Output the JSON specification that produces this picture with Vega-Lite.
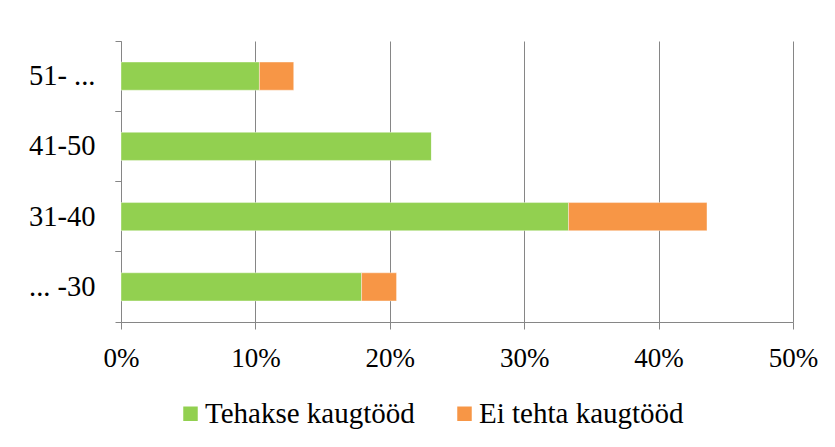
{
  "$schema": "https://vega.github.io/schema/vega-lite/v6.json",
  "width": 672,
  "height": 281,
  "autosize": {"type": "none"},
  "padding": {"left": 121, "top": 41, "right": 42, "bottom": 125},
  "background": "white",
  "config": {
    "view": {"stroke": null}
  },
  "data": {
    "values": [
      {"age": "51- ...", "group": "Tehakse kaugtööd", "value": 0.103},
      {"age": "51- ...", "group": "Ei tehta kaugtööd", "value": 0.0255},
      {"age": "41-50", "group": "Tehakse kaugtööd", "value": 0.231},
      {"age": "41-50", "group": "Ei tehta kaugtööd", "value": 0},
      {"age": "31-40", "group": "Tehakse kaugtööd", "value": 0.333},
      {"age": "31-40", "group": "Ei tehta kaugtööd", "value": 0.103},
      {"age": "... -30", "group": "Tehakse kaugtööd", "value": 0.179},
      {"age": "... -30", "group": "Ei tehta kaugtööd", "value": 0.026}
    ]
  },
  "layer": [
    {
      "mark": {"type": "bar", "height": {"band": 0.4}, "stroke": "#ffffff", "strokeWidth": 0.75, "strokeOpacity": 0.5},
      "encoding": {
        "y": {
          "field": "age",
          "type": "nominal",
          "sort": ["51- ...", "41-50", "31-40", "... -30"],
          "scale": {"paddingInner": 0, "paddingOuter": 0},
          "axis": {
            "title": null,
            "orient": "left",
            "bandPosition": 0,
            "labelFont": "Liberation Serif",
            "labelColor": "#000000",
            "labelFontSize": 28.5,
            "labelPadding": 20,
            "labelBaseline": "middle",
            "tickSize": 6,
            "tickColor": "#868686",
            "domainColor": "#868686",
            "grid": false
          }
        },
        "x": {
          "field": "value",
          "type": "quantitative",
          "stack": "zero",
          "scale": {"domain": [0, 0.5], "nice": false},
          "axis": {
            "title": null,
            "format": "%",
            "values": [0, 0.1, 0.2, 0.3, 0.4, 0.5],
            "labelFont": "Liberation Serif",
            "labelColor": "#000000",
            "labelFontSize": 27,
            "labelPadding": 16,
            "tickSize": 7,
            "tickColor": "#868686",
            "domainColor": "#868686",
            "grid": true,
            "gridColor": "#868686",
            "gridOpacity": 1,
            "labelFlush": false
          }
        },
        "order": {"field": "group", "sort": "descending"},
        "color": {
          "field": "group",
          "type": "nominal",
          "sort": ["Tehakse kaugtööd", "Ei tehta kaugtööd"],
          "scale": {"domain": ["Tehakse kaugtööd", "Ei tehta kaugtööd"], "range": ["#92D050", "#F79646"]},
          "legend": {
            "title": null,
            "orient": "none",
            "direction": "horizontal",
            "legendX": 55,
            "legendY": 358,
            "symbolType": "square",
            "symbolSize": 210,
            "symbolStrokeWidth": 0,
            "labelFont": "Liberation Serif",
            "labelColor": "#000000",
            "labelFontSize": 29,
            "labelOffset": 0,
            "labelLimit": 0,
            "columnPadding": 35
          }
        }
      }
    },
    {
      "mark": {"type": "bar", "opacity": 0, "height": {"band": 0.4}},
      "encoding": {
        "y": {
          "field": "age",
          "type": "nominal",
          "sort": ["51- ...", "41-50", "31-40", "... -30"],
          "axis": {
            "title": null,
            "orient": "left",
            "bandPosition": 1,
            "labels": false,
            "domain": false,
            "grid": false,
            "tickSize": 6,
            "tickColor": "#868686"
          }
        },
        "x": {"field": "value", "type": "quantitative", "aggregate": "sum"}
      }
    }
  ],
  "resolve": {"axis": {"y": "independent", "x": "shared"}}
}
